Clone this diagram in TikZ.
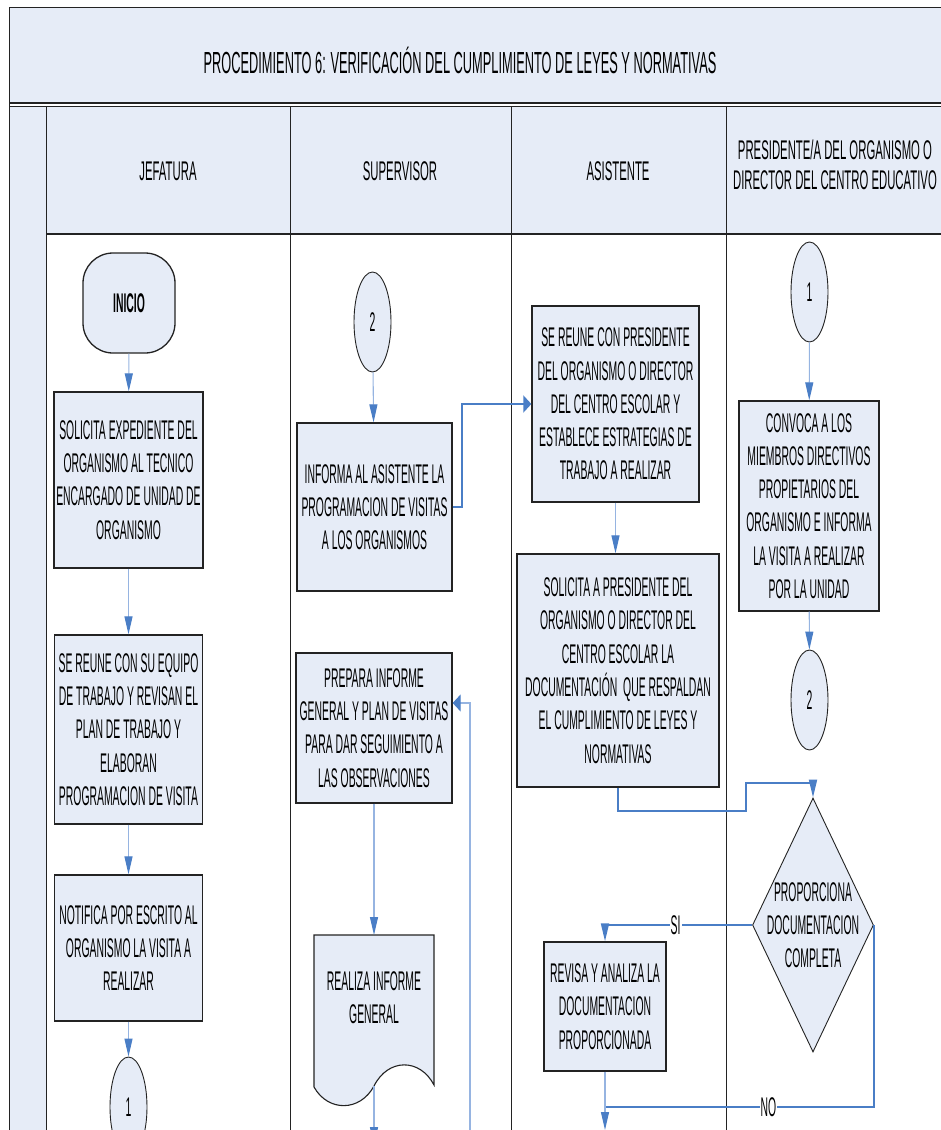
\documentclass[tikz,border=0pt]{standalone}
\usepackage{fontspec}
\setmainfont[FakeStretch=0.42]{Liberation Sans}
\newfontfamily\boxfam[FakeStretch=0.385]{Liberation Sans}
\usetikzlibrary{shapes.geometric,arrows.meta}
\definecolor{paneblue}{RGB}{230,236,247}
\definecolor{flowblue}{RGB}{74,126,198}
\definecolor{lightflow}{RGB}{150,180,225}
\definecolor{edge}{RGB}{35,35,35}
\newcommand\boxfont{\boxfam\fontsize{27}{33.3}\selectfont}
\newcommand\headfont{\fontsize{27}{30}\selectfont}
\newcommand\titlefont{\fontsize{30.5}{34}\selectfont}

\begin{document}
\begin{tikzpicture}[x=1pt,y=-1pt,
  frameline/.style={draw=edge,line width=1pt},
  stepbox/.style={rectangle,draw=edge,line width=1.3pt,fill=paneblue,align=center,
    font=\boxfont,inner sep=0pt},
  terminal/.style={stepbox,rounded corners=30pt,font=\boxfont\bfseries},
  link/.style={ellipse,draw=edge,line width=0.9pt,fill=paneblue,font=\boxfont,
    inner sep=0pt,minimum width=37pt,minimum height=100pt},
  decision/.style={diamond,draw=edge,line width=0.9pt,fill=paneblue,inner sep=0pt},
  thinflow/.style={draw=lightflow,line width=1.1pt},
  routeflow/.style={draw=flowblue,line width=1.8pt},
  varr/.style={-{Triangle[length=18pt,width=8pt,color=flowblue]}},
  harr/.style={-{Triangle[length=8pt,width=17pt,color=flowblue]}},
  branch/.style={font=\boxfont,fill=white,inner sep=1pt}]

\useasboundingbox (0,0) rectangle (941,1130);
\clip (0,0) rectangle (941,1130);

% ---- swimlane frame ----
\fill[paneblue] (9,7) rectangle (941,103);
\fill[paneblue] (9,106) rectangle (941,234);
\fill[paneblue] (9,234) rectangle (46,1130);
\draw[frameline] (9,7) -- (941,7);
\draw[frameline] (9,7) -- (9,1130);
\draw[draw=edge,line width=1.8pt] (9,103) -- (941,103);
\draw[frameline] (9,106.5) -- (941,106.5);
\draw[draw=edge,line width=1.6pt] (46,234) -- (941,234);
\draw[frameline] (46,106.5) -- (46,1130);
\draw[frameline] (290,106.5) -- (290,1130);
\draw[frameline] (511,106.5) -- (511,1130);
\draw[frameline] (726,106.5) -- (726,1130);

\node[font=\titlefont] (title) at (460,60)
  {PROCEDIMIENTO 6: VERIFICACIÓN DEL CUMPLIMIENTO DE LEYES Y NORMATIVAS};
\node[font=\headfont] (hjef) at (168,171) {JEFATURA};
\node[font=\headfont] (hsup) at (400,171) {SUPERVISOR};
\node[font=\headfont] (hasi) at (618,171) {ASISTENTE};
\node[font=\headfont,align=center] (hpre) at (835,165)
  {PRESIDENTE/A DEL ORGANISMO O\\DIRECTOR DEL CENTRO EDUCATIVO};

% ---- JEFATURA ----
\node[terminal,minimum width=92pt,minimum height=100pt] (inicio) at (129,303) {INICIO};
\node[stepbox,minimum width=149pt,minimum height=176pt] (b1) at (128.5,480)
  {SOLICITA EXPEDIENTE DEL\\ORGANISMO AL TECNICO\\ENCARGADO DE UNIDAD DE\\ORGANISMO};
\node[stepbox,minimum width=148pt,minimum height=189pt] (b2) at (128.5,729.5)
  {SE REUNE CON SU EQUIPO\\DE TRABAJO Y REVISAN EL\\PLAN DE TRABAJO Y\\ELABORAN\\PROGRAMACION DE VISITA};
\node[stepbox,minimum width=148pt,minimum height=146pt] (b3) at (128.5,948)
  {NOTIFICA POR ESCRITO AL\\ORGANISMO LA VISITA A\\REALIZAR};
\node[link] (c1) at (128.5,1107) {1};

% ---- SUPERVISOR ----
\node[link] (c2s) at (372.5,322) {2};
\node[stepbox,minimum width=155pt,minimum height=168pt] (inf) at (374.5,507)
  {INFORMA AL ASISTENTE LA\\PROGRAMACION DE VISITAS\\A LOS ORGANISMOS};
\node[stepbox,minimum width=156pt,minimum height=150pt] (prep) at (374,728)
  {PREPARA INFORME\\GENERAL Y PLAN DE VISITAS\\PARA DAR SEGUIMIENTO A\\LAS OBSERVACIONES};
% document symbol
\filldraw[fill=paneblue,draw=edge,line width=1.1pt]
  (314,935) -- (434,935) -- (434,1085)
  .. controls (420,1058) and (388,1058) .. (374,1086)
  .. controls (360,1112) and (328,1112) .. (314,1087) -- cycle;
\coordinate (doctop) at (374,935);
\coordinate (docbot) at (374,1086);
\node[font=\boxfont,align=center] (doc) at (374,998) {REALIZA INFORME\\GENERAL};

% ---- ASISTENTE ----
\node[stepbox,minimum width=167pt,minimum height=196pt] (as1) at (615.5,404)
  {SE REUNE CON PRESIDENTE\\DEL ORGANISMO O DIRECTOR\\DEL CENTRO ESCOLAR Y\\ESTABLECE ESTRATEGIAS DE\\TRABAJO A REALIZAR};
\node[stepbox,minimum width=202pt,minimum height=233pt] (as2) at (618,670.5)
  {SOLICITA A PRESIDENTE DEL\\ORGANISMO O DIRECTOR DEL\\CENTRO ESCOLAR LA\\DOCUMENTACIÓN\ \ QUE RESPALDAN\\EL CUMPLIMIENTO DE LEYES Y\\NORMATIVAS};
\node[stepbox,minimum width=122pt,minimum height=129pt] (rev) at (605,1006.5)
  {REVISA Y ANALIZA LA\\DOCUMENTACION\\PROPORCIONADA};

% ---- PRESIDENTE ----
\node[link] (c1p) at (809.5,292) {1};
\node[stepbox,minimum width=140pt,minimum height=210pt] (conv) at (809,506)
  {CONVOCA A LOS\\MIEMBROS DIRECTIVOS\\PROPIETARIOS DEL\\ORGANISMO E INFORMA\\LA VISITA A REALIZAR\\POR LA UNIDAD};
\node[link] (c2p) at (809.5,700) {2};
\node[decision,minimum width=121pt,minimum height=254pt] (dia) at (813,925) {};
\node[font=\boxfont,align=center] (diatext) at (dia.center)
  {PROPORCIONA\\DOCUMENTACION\\COMPLETA};

% ---- connectors ----
\draw[thinflow,varr] (inicio) -- (b1);
\draw[thinflow,varr] (b1) -- (b2);
\draw[thinflow,varr] (b2) -- (b3);
\draw[thinflow,varr] (b3) -- (c1);

\draw[thinflow,varr] (c2s) -- (inf);
\coordinate (r3) at (462,507);
\draw[routeflow,harr] (inf.east) -- (r3) |- (as1.west);
\draw[thinflow,varr] (as1.south) -- (as1.south |- as2.north);

\coordinate (r1) at (746,811);
\coordinate (r2) at (746,783);
\draw[routeflow,varr] (as2.south) |- (r1) -- (r2) -| (dia.north);

\draw[thinflow,varr] (c1p) -- (conv);
\draw[thinflow,varr] (conv) -- (c2p);

\draw[routeflow,varr] (dia.west) -| (rev.north) node[branch,pos=0.26] {SI};
\coordinate (nojoin) at (605,1107);
\draw[routeflow] (dia.east) |- (nojoin) node[branch,pos=0.696] {NO};
\coordinate (revout) at (605,1130);
\draw[thinflow,varr] (rev.south) -- (revout);

\draw[thinflow,varr] (prep.south) -- (doctop);
\coordinate (docout) at (374,1145);
\draw[thinflow,varr] (docbot) -- (docout);
\coordinate (fb) at (470,1140);
\draw[thinflow,harr] (fb) |- ([yshift=25pt]prep.east);
\end{tikzpicture}
\end{document}
